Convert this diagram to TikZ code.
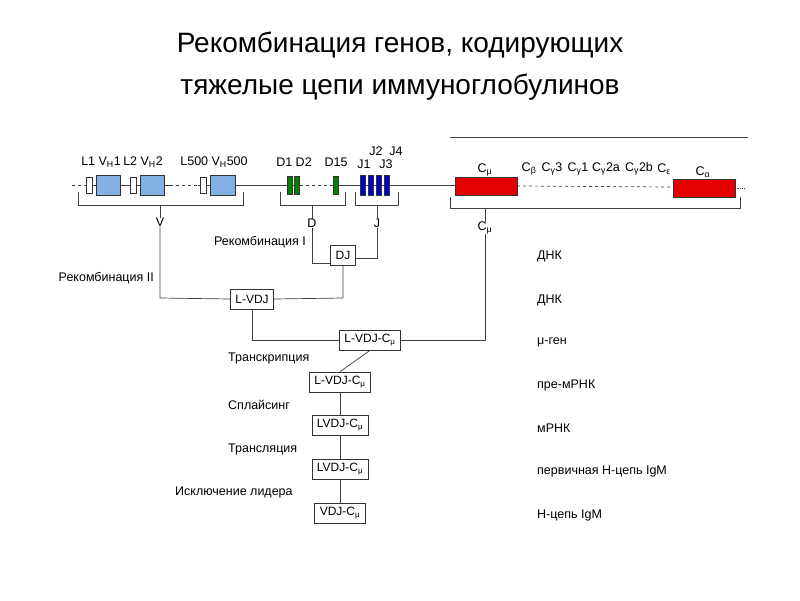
\documentclass[tikz,border=0pt]{standalone}
\usepackage{fontspec}
\setmainfont{Liberation Sans}
\newcommand{\sbs}[1]{\textsubscript{#1}}
\begin{document}
\begin{tikzpicture}[x=1pt,y=-1pt,
  ln/.style={draw=black!75,line width=0.7pt},
  bx/.style={draw=black!80,fill=white,line width=0.7pt,inner xsep=5pt,inner ysep=2pt,minimum height=20pt,font=\fontsize{12}{14}\selectfont},
  lb/.style={font=\fontsize{12.5}{14}\selectfont,inner sep=0pt},
  lr/.style={lb,anchor=east},
  rl/.style={lb,anchor=west},
  seg/.style={draw=black!80,line width=0.6pt},
]
\useasboundingbox (0,0) rectangle (800,600);
\node[font=\fontsize{28}{42}\selectfont,align=center] (title) at (400,66) {Рекомбинация генов, кодирующих\\тяжелые цепи иммуноглобулинов};
% chromosome line
\draw[ln,dashed] (72,185) -- (85,185);
\draw[ln] (85,185) -- (170,185);
\draw[ln,dashed] (170,185) -- (198,185);
\draw[ln] (198,185) -- (300,185);
\draw[ln,dashed] (300,185) -- (332,185);
\draw[ln] (332,185) -- (455,185);
\draw[ln,dashed] (517,186) -- (673,187);
\draw[ln,densely dotted] (735,188) -- (745,188);
\draw[ln] (450,137) -- (748,137);
% segments
\foreach \a in {86,130,200} \draw[seg,fill=white] (\a,177) rectangle (\a+6,193);
\foreach \a/\b in {96/120,140/164,210/235} \draw[seg,fill=cyan!60!blue!50] (\a,175) rectangle (\b,195);
\foreach \a in {287,294,333} \draw[seg,fill=green!50!black] (\a,176) rectangle (\a+5,194);
\foreach \a in {360,368,376,384} \draw[seg,fill=blue!80!black] (\a,175) rectangle (\a+5,195);
\draw[seg,fill=red!90!black] (455,177) rectangle (517,195);
\draw[seg,fill=red!90!black] (673,179) rectangle (735,197);
% labels
\node[lb] (l1) at (101,162) {L1 V\sbs{H}1};
\node[lb] (l2) at (143,162) {L2 V\sbs{H}2};
\node[lb] (l3) at (214,162) {L500 V\sbs{H}500};
\node[lb] (d12) at (294,162) {D1 D2};
\node[lb] (d15) at (336,162) {D15};
\node[lb] (j1) at (364,164) {J1};
\node[lb] (j3) at (386,164) {J3};
\node[lb] (j2) at (376,151) {J2};
\node[lb] (j4) at (396,151) {J4};
\node[lb] (cm) at (485,170) {C\sbs{μ}};
\node[lb] (cb) at (529,169) {C\sbs{β}};
\node[lb] (cg3) at (552,169) {C\sbs{γ}3};
\node[lb] (cg1) at (578,169) {C\sbs{γ}1};
\node[lb] (cg2a) at (606,169) {C\sbs{γ}2a};
\node[lb] (cg2b) at (639,169) {C\sbs{γ}2b};
\node[lb] (ce) at (664,169) {C\sbs{ε}};
\node[lb] (ca) at (703,172) {C\sbs{α}};
% brackets
\draw[ln] (78,192) -- (78,205) -- (243,205) -- (243,192);
\draw[ln] (280,192) -- (280,205) -- (345,205) -- (345,192);
\draw[ln] (355,192) -- (355,205) -- (398,205) -- (398,192);
\draw[ln] (450,197) -- (450,208) -- (740,208) -- (740,197);
\node[lb] (V) at (160,222) {V};
\node[lb] (D) at (312,223) {D};
\node[lb] (J) at (377,223) {J};
\node[lb] (Cm2) at (485,228) {C\sbs{μ}};
\draw[ln] (160,205) -- (V.north);
\draw[ln] (312,205) -- (D.north);
\draw[ln] (377,205) -- (J.north);
\draw[ln] (485,208) -- (Cm2.north);
% boxes
\node[bx] (dj) at (343,255) {DJ};
\node[bx] (lvdj) at (252,299) {L-VDJ};
\node[bx] (b1) at (370,340) {L-VDJ-C\sbs{μ}};
\node[bx] (b2) at (340,382) {L-VDJ-C\sbs{μ}};
\node[bx] (b3) at (340,425) {LVDJ-C\sbs{μ}};
\node[bx] (b4) at (340,469) {LVDJ-C\sbs{μ}};
\node[bx] (b5) at (340,513) {VDJ-C\sbs{μ}};
% connectors
\draw[ln] (D.south) -- (312,263) -- (dj.west |- 0,263);
\draw[ln] (J.south) -- (377,258) -- (dj.east |- 0,258);
\draw[ln] (dj.south) -- (343,298) -- (lvdj.east);
\draw[ln] (V.south) -- (160,298) -- (lvdj.west);
\draw[ln] (lvdj.south) -- (252,340) -- (b1.west);
\draw[ln] (Cm2.south) -- (485,340) -- (b1.east);
\draw[ln] (b1.south) -- (b2.north);
\draw[ln] (b2) -- (b3);
\draw[ln] (b3) -- (b4);
\draw[ln] (b4) -- (b5);
% process labels
\node[lr] (r1) at (306,242) {Рекомбинация I};
\node[lr] (r2) at (154,278) {Рекомбинация II};
\node[rl] (t1) at (228,358) {Транскрипция};
\node[rl] (t2) at (228,405) {Сплайсинг};
\node[rl] (t3) at (228,449) {Трансляция};
\node[rl] (t4) at (175,492) {Исключение лидера};
% right labels
\node[rl] (p1) at (537,256) {ДНК};
\node[rl] (p2) at (537,300) {ДНК};
\node[rl] (p3) at (537,342) {μ-ген};
\node[rl] (p4) at (537,385) {пре-мРНК};
\node[rl] (p5) at (537,428) {мРНК};
\node[rl] (p6) at (537,471) {первичная Н-цепь IgM};
\node[rl] (p7) at (537,515) {Н-цепь IgM};
\end{tikzpicture}
\end{document}
